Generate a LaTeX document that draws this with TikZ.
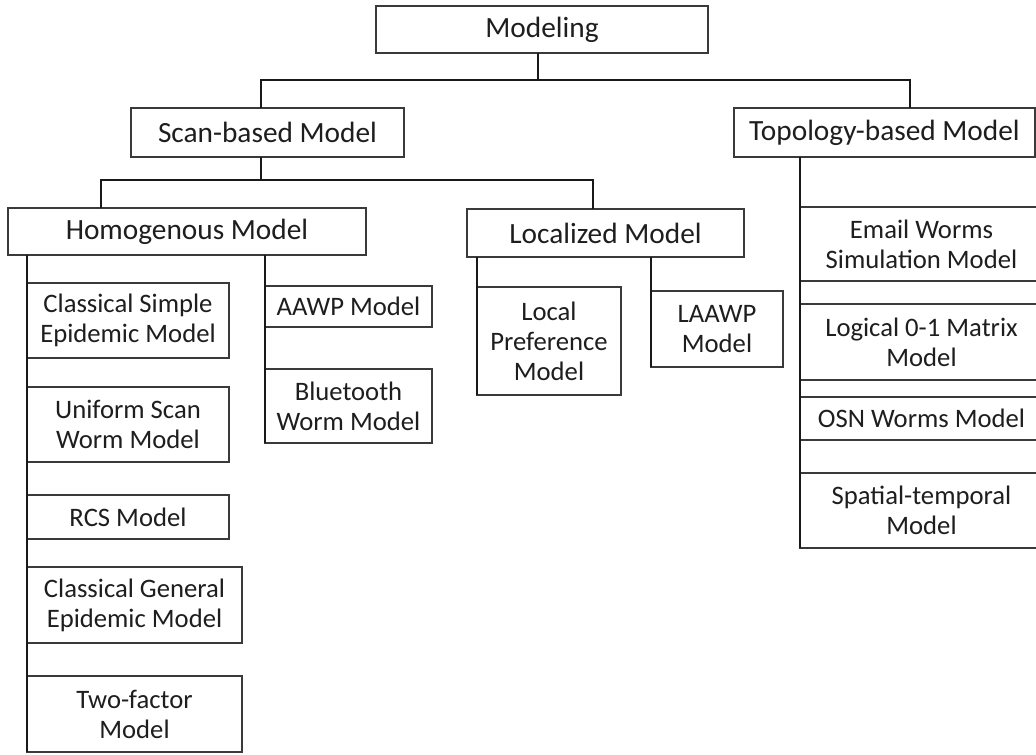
\documentclass[tikz,border=0pt]{standalone}
\usepackage{fontspec}
\setmainfont{Carlito}
\definecolor{edge}{HTML}{3A3A3A}
\definecolor{ink}{HTML}{1E1E1E}
\tikzset{
  box/.style={draw=edge, line width=1.1pt, fill=white, inner sep=0pt, outer sep=0pt,
              align=center, text=ink},
  headbox/.style={box, font=\fontsize{22}{26}\selectfont},
  leafbox/.style={box, font=\fontsize{20}{22.5}\selectfont},
  link/.style={draw=black!90, line width=1.7pt},
  trunk/.style={draw=black!90, line width=2.2pt}
}
% box given by its corners in pixel units: name, x1, y1, x2, y2, style, text
\newcommand\tbox[7]{%
  \node[#6, minimum width={(#4-#2)*0.75pt}, minimum height={(#5-#3)*0.75pt}]
    (#1) at ({(#2+#4)/2},{(#3+#5)/2}) {#7};}
\begin{document}
\begin{tikzpicture}[x=0.75pt, y=-0.75pt]
\useasboundingbox (0,0) rectangle (1036,754);

% level 0 and 1
\tbox{model}{376}{6}{708}{53}{headbox}{Modeling}
\tbox{scan}{131}{108}{404}{157}{headbox}{Scan-based Model}
\tbox{topo}{734}{108}{1035}{157}{headbox}{Topology-based Model}

% level 2
\tbox{homog}{8}{208}{366}{255}{headbox}{Homogenous Model}
\tbox{loc}{467}{209}{744}{257}{headbox}{Localized Model}

% homogenous leaves
\tbox{csimple}{27}{283}{229}{358}{leafbox}{Classical Simple\\Epidemic Model}
\tbox{uscan}{27}{387}{229}{462}{leafbox}{Uniform Scan\\Worm Model}
\tbox{rcs}{27}{495}{229}{539}{leafbox}{RCS Model}
\tbox{cgen}{27}{567}{242}{643}{leafbox}{Classical General\\Epidemic Model}
\tbox{twof}{27}{676}{242}{752}{leafbox}{Two-factor\\Model}
\tbox{aawp}{265}{286}{432}{327}{leafbox}{AAWP Model}
\tbox{blue}{265}{369}{432}{443}{leafbox}{Bluetooth\\Worm Model}

% localized leaves
\tbox{lpref}{477}{287}{621}{395}{leafbox}{Local\\Preference\\Model}
\tbox{laawp}{651}{291}{783}{367}{leafbox}{LAAWP\\Model}

% topology leaves
\tbox{email}{800}{207}{1043}{281}{leafbox}{Email Worms\\Simulation Model}
\tbox{logic}{800}{304}{1043}{380}{leafbox}{Logical 0-1 Matrix\\Model}
\tbox{osn}{800}{397}{1043}{440}{leafbox}{OSN Worms Model}
\tbox{spat}{800}{473}{1043}{548}{leafbox}{Spatial-temporal\\Model}

% junction points of the tree
\coordinate (mj) at (538,80);
\coordinate (sj) at (261,80);
\coordinate (tj) at (910,80);
\coordinate (hs) at (261,180);
\coordinate (hj) at (101,180);
\coordinate (lj) at (593,180);

% connectors
\draw[link] (model.south -| mj) -- (mj);
\draw[link] (scan.north -| sj) -- (sj) -- (tj) -- (topo.north -| tj);
\draw[link] (scan.south -| hs) -- (hs);
\draw[link] (homog.north -| hj) -- (hj) -- (lj) -- (loc.north -| lj);

% trunks along the leaf columns
\draw[trunk] (homog.south -| twof.west) -- (twof.south west);
\draw[trunk] (homog.south -| blue.west) -- (blue.south west);
\draw[trunk] (loc.south -| lpref.west) -- (lpref.south west);
\draw[trunk] (loc.south -| laawp.west) -- (laawp.south west);
\draw[trunk] (topo.south -| spat.west) -- (spat.south west);
\end{tikzpicture}
\end{document}
